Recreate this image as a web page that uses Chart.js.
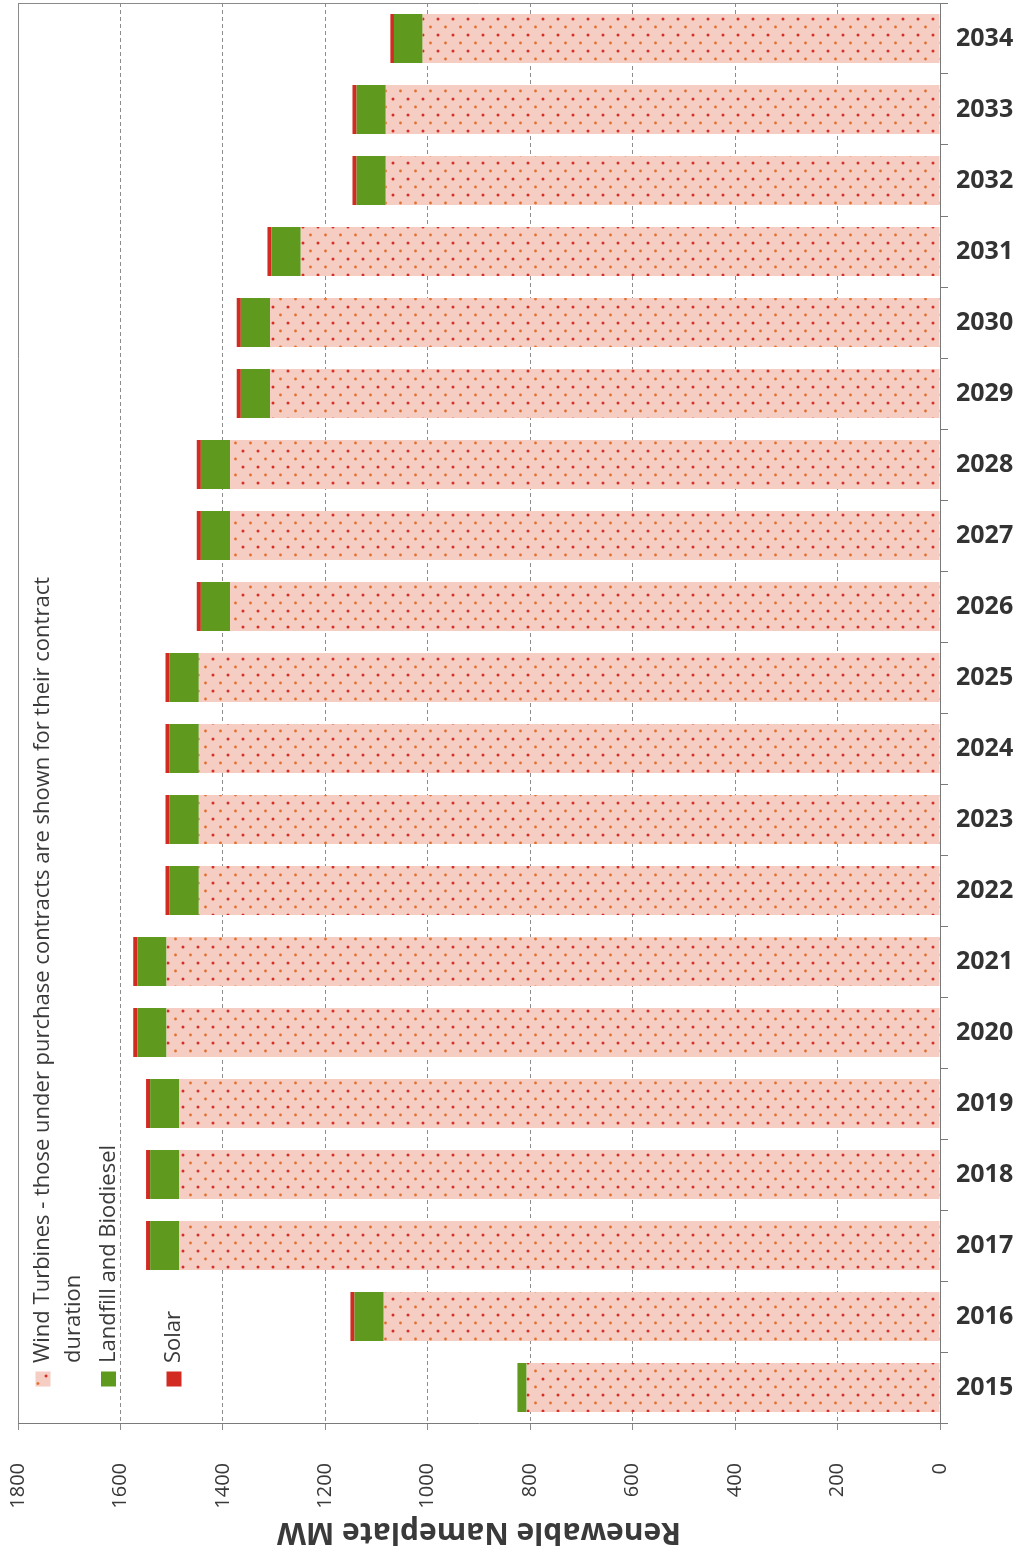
<!DOCTYPE html>
<html>
<head>
<meta charset="utf-8">
<title>Renewable Nameplate MW</title>
<script src="https://cdn.jsdelivr.net/npm/chart.js@4.4.0/dist/chart.umd.min.js"></script>
<style>
  html, body { margin: 0; padding: 0; background: #ffffff; }
  #wrap { width: 1025px; height: 1554px; position: relative; }
  canvas { display: block; }
</style>
</head>
<body>
<div id="wrap"><canvas id="chart" width="1025" height="1554"></canvas></div>
<script>
// Contract years
const years = ['2015', '2016', '2017', '2018', '2019', '2020', '2021', '2022', '2023', '2024',
               '2025', '2026', '2027', '2028', '2029', '2030', '2031', '2032', '2033', '2034'];

// Nameplate capacity by source, MW
const windMW     = [807, 1086, 1485, 1485, 1485, 1510, 1510, 1447, 1447, 1447,
                    1447, 1386, 1386, 1386, 1308, 1308, 1248, 1082, 1082, 1010];
const landfillMW = [18, 57, 57, 57, 57, 57, 57, 57, 57, 57,
                    57, 57, 57, 57, 57, 57, 57, 57, 57, 56];
const solarMW    = [0, 8, 8, 8, 8, 8, 8, 8, 8, 8,
                    8, 8, 8, 8, 8, 8, 8, 8, 8, 7];

// Series names and value-axis ticks
const seriesNames = [
  'Wind Turbines - those under purchase contracts are shown for their contract duration',
  'Landfill and Biodiesel',
  'Solar'
];
const valueMin = 0;
const valueMax = 1800;
const valueStep = 200;
const valueAxisTitle = 'Renewable Nameplate MW';

const canvas = document.getElementById('chart');
const ctx = canvas.getContext('2d');

// Pale pink fill sprinkled with small red / orange dots
function dottedFill() {
  const t = document.createElement('canvas');
  t.width = 15; t.height = 16;
  const g = t.getContext('2d');
  g.fillStyle = '#f6cdc2';
  g.fillRect(0, 0, 15, 16);
  g.fillStyle = '#d62f26';
  g.beginPath(); g.arc(3, 3, 1.5, 0, Math.PI * 2); g.fill();
  g.fillStyle = '#e2702f';
  g.beginPath(); g.arc(10.5, 11, 1.4, 0, Math.PI * 2); g.fill();
  return ctx.createPattern(t, 'repeat');
}
const windFill = dottedFill();

const TEXT = '#3a3a3a';
const FONT = "'Open Sans', 'DejaVu Sans', sans-serif";

// Plot-area frame
const framePlugin = {
  id: 'frame',
  afterDraw(chart) {
    const a = chart.chartArea;
    const c = chart.ctx;
    c.save();
    c.strokeStyle = '#8a8a8a';
    c.lineWidth = 1;
    c.beginPath();
    c.moveTo(a.left + 0.5, a.bottom);
    c.lineTo(a.left + 0.5, a.top + 0.5);
    c.lineTo(a.right, a.top + 0.5);
    c.stroke();
    c.restore();
  }
};

// Value-axis title, drawn upside down below the tick labels
const axisTitlePlugin = {
  id: 'axisTitle',
  afterDraw(chart) {
    const a = chart.chartArea;
    const c = chart.ctx;
    c.save();
    c.translate((a.left + a.right) / 2, 1532);
    c.rotate(Math.PI);
    c.font = 'bold 30px ' + FONT;
    c.fillStyle = TEXT;
    c.textAlign = 'center';
    c.textBaseline = 'middle';
    c.fillText(valueAxisTitle, 0, 0);
    c.restore();
  }
};

// Legend reading bottom-to-top inside the plot area
const sideLegendPlugin = {
  id: 'sideLegend',
  afterDraw(chart) {
    const c = chart.ctx;
    const originX = 43, originY = 1379, pitch = 65.5, lineGap = 31, maxW = 830;
    c.save();
    c.translate(originX, originY);
    c.rotate(-Math.PI / 2);
    c.font = '22px ' + FONT;
    c.textBaseline = 'middle';
    c.textAlign = 'left';
    chart.data.datasets.forEach((ds, i) => {
      const row = i * pitch;
      c.fillStyle = ds.backgroundColor;
      c.fillRect(-7.5, row - 7.5, 15, 15);
      // wrap long labels
      const words = ds.label.split(' ');
      const lines = [];
      let cur = '';
      words.forEach(w => {
        const test = cur ? cur + ' ' + w : w;
        if (c.measureText(test).width > maxW && cur) { lines.push(cur); cur = w; }
        else cur = test;
      });
      if (cur) lines.push(cur);
      c.fillStyle = TEXT;
      lines.forEach((ln, j) => c.fillText(ln, 16, row + j * lineGap));
    });
    c.restore();
  }
};

new Chart(canvas, {
  type: 'bar',
  data: {
    labels: years,
    datasets: [
      { label: seriesNames[0], data: windMW, backgroundColor: windFill, borderWidth: 0 },
      { label: seriesNames[1], data: landfillMW, backgroundColor: '#5f9a1e', borderWidth: 0 },
      { label: seriesNames[2], data: solarMW, backgroundColor: '#d22b22', borderWidth: 0 }
    ]
  },
  options: {
    indexAxis: 'y',
    responsive: false,
    animation: false,
    devicePixelRatio: 1,
    layout: { padding: { top: 3, left: 18, right: 0, bottom: 0 } },
    datasets: { bar: { categoryPercentage: 1, barPercentage: 0.69 } },
    plugins: { legend: { display: false }, tooltip: { enabled: false } },
    scales: {
      x: {
        stacked: true,
        reverse: true,
        position: 'bottom',
        min: valueMin,
        max: valueMax,
        ticks: {
          stepSize: valueStep,
          minRotation: 90,
          maxRotation: 90,
          padding: 33,
          color: TEXT,
          font: { family: FONT, size: 20 },
          callback: v => String(v)
        },
        grid: { color: '#8c8c8c', lineWidth: 1, tickLength: 7 },
        border: { display: true, color: '#7a7a7a', dash: [4, 3] },
        afterFit(scale) {
          scale.height = 131;
          scale.paddingLeft = 0;
          scale.paddingRight = 0;
        }
      },
      y: {
        stacked: true,
        reverse: true,
        position: 'right',
        ticks: {
          padding: 8,
          color: '#333333',
          font: { family: FONT, size: 25, weight: 'bold' }
        },
        grid: { drawOnChartArea: false, tickLength: 8, color: '#7a7a7a' },
        border: { display: true, color: '#7a7a7a' },
        afterFit(scale) {
          scale.width = 85;
          scale.paddingTop = 0;
          scale.paddingBottom = 0;
        }
      }
    }
  },
  plugins: [framePlugin, axisTitlePlugin, sideLegendPlugin]
});
</script>
</body>
</html>
